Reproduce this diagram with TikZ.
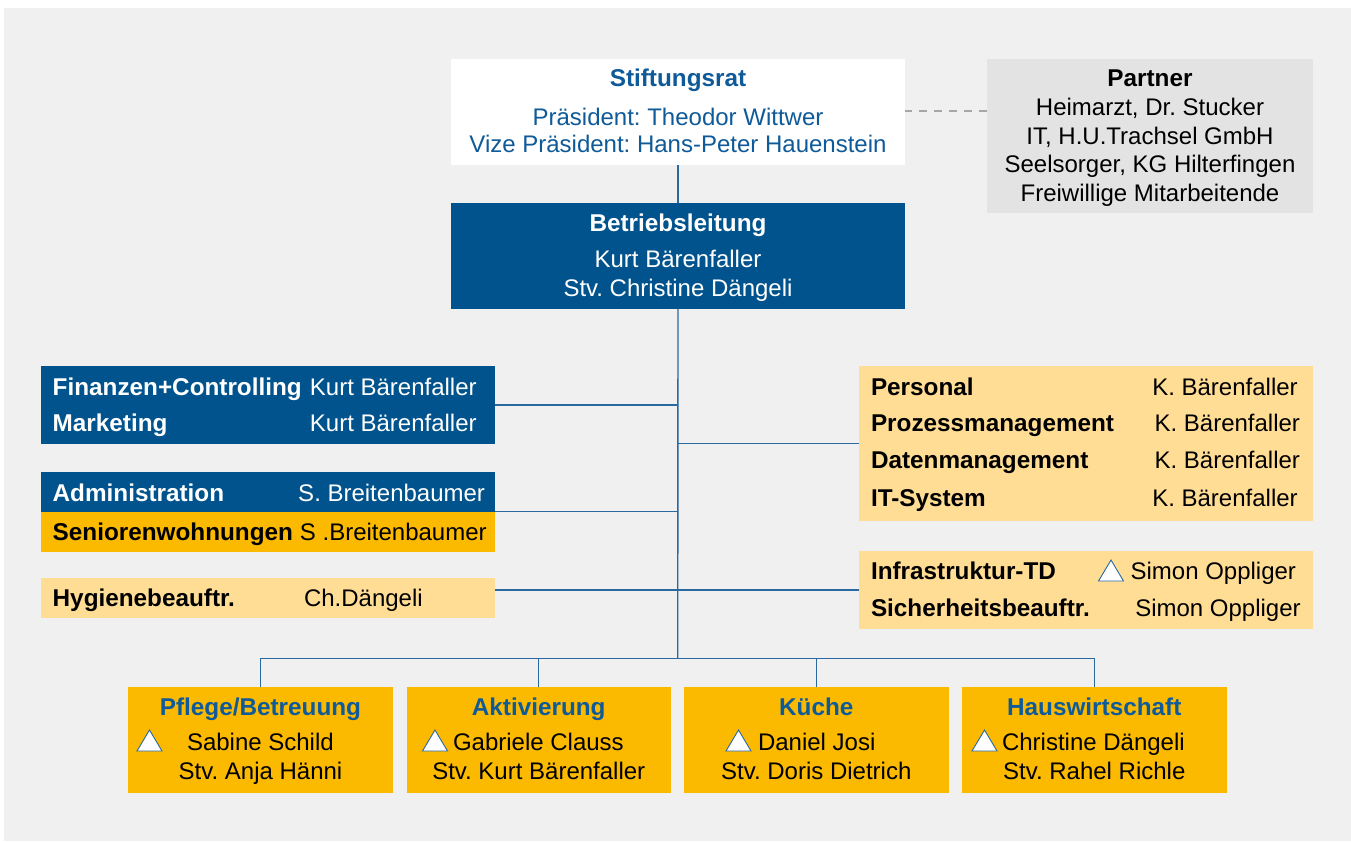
\documentclass[tikz,border=0pt]{standalone}
\usepackage{fontspec}
\setmainfont{Liberation Sans}
\frenchspacing
\definecolor{bggray}{HTML}{F0F0F0}
\definecolor{dblue}{HTML}{00538C}
\definecolor{tblue}{HTML}{0F5A98}
\definecolor{orng}{HTML}{FBB900}
\definecolor{lorng}{HTML}{FFDD95}
\definecolor{pgray}{HTML}{E3E3E3}
\definecolor{lblue}{HTML}{2A68A0}
\definecolor{dgray}{HTML}{A6A6A6}
\newcommand\mytri[2]{\draw[trishape] (#1,#2) -- ++(25,0) -- ++(-12.5,-21) -- cycle;}
\begin{document}
\begin{tikzpicture}[x=1pt,y=-1pt,
  box/.style={draw=none,inner sep=0pt,outer sep=0pt,anchor=north west},
  txt/.style={inner sep=0pt,outer sep=0pt,font=\fontsize{24}{29}\selectfont\frenchspacing},
  btxt/.style={txt,font=\fontsize{24.3}{29}\selectfont\bfseries\frenchspacing},
  conn/.style={draw=lblue,line width=1.4pt},
  trishape/.style={draw=lblue,fill=white,line width=0.9pt,line join=miter}]
\useasboundingbox (0,0) rectangle (1351,841);
\fill[white] (0,0) rectangle (1351,841);
\fill[bggray] (4,8) rectangle (1351,841);

% boxes
\node[box,fill=white,minimum width=454pt,minimum height=106pt] (stift) at (451,59) {};
\node[box,fill=dblue,minimum width=454pt,minimum height=105.5pt] (betr) at (451,203.3) {};
\node[box,fill=pgray,minimum width=326.5pt,minimum height=154.3pt] (partner) at (986.7,59) {};
\node[box,fill=dblue,minimum width=454pt,minimum height=77.7pt] (fin) at (41,366) {};
\node[box,fill=dblue,minimum width=454pt,minimum height=39.7pt] (admin) at (41,472) {};
\node[box,fill=orng,minimum width=454pt,minimum height=40.3pt] (senior) at (41,511.7) {};
\node[box,fill=lorng,minimum width=454pt,minimum height=40pt] (hyg) at (41,577.7) {};
\node[box,fill=lorng,minimum width=454pt,minimum height=155pt] (pers) at (859,366) {};
\node[box,fill=lorng,minimum width=454pt,minimum height=77.7pt] (infra) at (859,551) {};
\node[box,fill=orng,minimum width=265pt,minimum height=106pt] (pflege) at (128,687) {};
\node[box,fill=orng,minimum width=264.5pt,minimum height=106pt] (aktiv) at (406.5,687) {};
\node[box,fill=orng,minimum width=264.5pt,minimum height=106pt] (kueche) at (684,687) {};
\node[box,fill=orng,minimum width=264.5pt,minimum height=106pt] (haus) at (962,687) {};

% connectors
\coordinate (busmid) at (677.7,658.3);
\draw[conn] (stift.south) -- (betr.north);
\draw[conn] (betr.south) -- (busmid);
\draw[conn] (fin.east) -- (fin.east -| busmid);
\draw[conn] (admin.south east) -- (admin.south east -| busmid);
\draw[conn] (infra.west) -- (infra.west -| hyg.east);
\draw[conn] (pers.west) -- (pers.west -| busmid);
\draw[conn] (pflege.north) |- (busmid) -| (haus.north);
\draw[conn] (aktiv.north) -- (aktiv.north |- busmid);
\draw[conn] (kueche.north) -- (kueche.north |- busmid);
\draw[dgray,line width=2pt,dash pattern=on 8pt off 7pt] (partner.west |- 0,111) -- (stift.east |- 0,111);

% Stiftungsrat
\node[btxt,text=tblue,anchor=base] (t1) at (678,86.7) {Stiftungsrat};
\node[txt,text=tblue,anchor=base] (t2) at (678,125.5) {Präsident: Theodor Wittwer};
\node[txt,text=tblue,anchor=base] (t3) at (678,152.7) {Vize Präsident: Hans-Peter Hauenstein};
% Betriebsleitung
\node[btxt,text=white,anchor=base] (b1) at (678,231) {Betriebsleitung};
\node[txt,text=white,anchor=base] (b2) at (678,267.7) {Kurt Bärenfaller};
\node[txt,text=white,anchor=base] (b3) at (678,296.7) {Stv. Christine Dängeli};
% Partner
\node[btxt,anchor=base] (p1) at (1150,86) {Partner};
\node[txt,anchor=base] (p2) at (1150,115) {Heimarzt, Dr. Stucker};
\node[txt,anchor=base] (p3) at (1150,144) {IT, H.U.Trachsel GmbH};
\node[txt,anchor=base] (p4) at (1150,172.7) {Seelsorger, KG Hilterfingen};
\node[txt,anchor=base] (p5) at (1150,201) {Freiwillige Mitarbeitende};

% left boxes
\node[btxt,text=white,anchor=base west] (l1) at (52.7,395) {Finanzen+Controlling};
\node[txt,text=white,anchor=base east] (l1r) at (476.7,395) {Kurt Bärenfaller};
\node[btxt,text=white,anchor=base west] (l2) at (52.7,431.7) {Marketing};
\node[txt,text=white,anchor=base east] (l2r) at (476.7,431.7) {Kurt Bärenfaller};
\node[btxt,text=white,anchor=base west] (l3) at (52.7,501) {Administration};
\node[txt,text=white,anchor=base east] (l3r) at (485,501) {S. Breitenbaumer};
\node[btxt,anchor=base west] (l4) at (52.7,540) {Seniorenwohnungen};
\node[txt,anchor=base east] (l4r) at (486.7,540) {S .Breitenbaumer};
\node[btxt,anchor=base west] (l5) at (52.7,606.7) {Hygienebeauftr.};
\node[txt,anchor=base west] (l5r) at (304,606.7) {Ch.Dängeli};

% right boxes
\node[btxt,anchor=base west] (r1) at (871,395) {Personal};
\node[txt,anchor=base east] (r1r) at (1297.7,395) {K. Bärenfaller};
\node[btxt,anchor=base west] (r2) at (871,431.7) {Prozessmanagement};
\node[txt,anchor=base east] (r2r) at (1300,431.7) {K. Bärenfaller};
\node[btxt,anchor=base west] (r3) at (871,468.3) {Datenmanagement};
\node[txt,anchor=base east] (r3r) at (1300,468.3) {K. Bärenfaller};
\node[btxt,anchor=base west] (r4) at (871,506.7) {IT-System};
\node[txt,anchor=base east] (r4r) at (1297.7,506.7) {K. Bärenfaller};
\node[btxt,anchor=base west] (r5) at (871,579.3) {Infrastruktur-TD};
\node[txt,anchor=base east] (r5r) at (1296,579.3) {Simon Oppliger};
\node[btxt,anchor=base west] (r6) at (871,616.7) {Sicherheitsbeauftr.};
\node[txt,anchor=base east] (r6r) at (1300.7,616.7) {Simon Oppliger};
\mytri{1098.5}{581}

% bottom boxes
\node[btxt,text=tblue,anchor=base] (u1) at (pflege.north |- 0,715.3) {Pflege/Betreuung};
\node[txt,anchor=base west] (u1a) at (187,750.3) {Sabine Schild};
\node[txt,anchor=base] (u1b) at (pflege.north |- 0,779.3) {Stv. Anja Hänni};
\mytri{137}{751}
\node[btxt,text=tblue,anchor=base] (u2) at (aktiv.north |- 0,715.3) {Aktivierung};
\node[txt,anchor=base west] (u2a) at (453,750.3) {Gabriele Clauss};
\node[txt,anchor=base] (u2b) at (aktiv.north |- 0,779.3) {Stv. Kurt Bärenfaller};
\mytri{422.5}{751}
\node[btxt,text=tblue,anchor=base] (u3) at (kueche.north |- 0,715.3) {Küche};
\node[txt,anchor=base west] (u3a) at (758,750.3) {Daniel Josi};
\node[txt,anchor=base] (u3b) at (kueche.north |- 0,779.3) {Stv. Doris Dietrich};
\mytri{726}{751}
\node[btxt,text=tblue,anchor=base] (u4) at (haus.north |- 0,715.3) {Hauswirtschaft};
\node[txt,anchor=base west] (u4a) at (1002,750.3) {Christine Dängeli};
\node[txt,anchor=base] (u4b) at (haus.north |- 0,779.3) {Stv. Rahel Richle};
\mytri{972}{751}
\end{tikzpicture}
\end{document}
